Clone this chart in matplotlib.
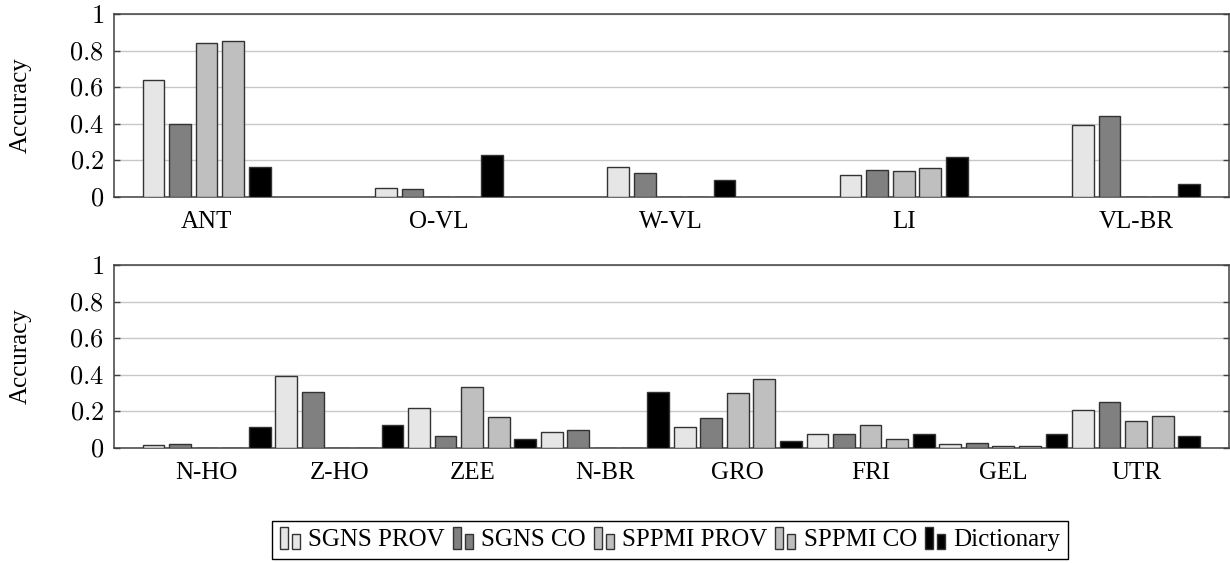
import matplotlib
matplotlib.use('Agg')
import matplotlib.pyplot as plt
import matplotlib.patches as mpatches
from matplotlib.legend_handler import HandlerBase
import numpy as np

plt.rcParams['font.family'] = ['Liberation Serif', 'DejaVu Serif']
plt.rcParams['mathtext.fontset'] = 'cm'
plt.rcParams['font.size'] = 18

# data
series = ["SGNS PROV", "SGNS CO", "SPPMI PROV", "SPPMI CO", "Dictionary"]
colors = ["#e6e6e6", "#808080", "#bfbfbf", "#bfbfbf", "#000000"]

top_cats = ["ANT", "O-VL", "W-VL", "LI", "VL-BR"]
top_sgns_prov = [0.64, 0.05, 0.16, 0.12, 0.39]
top_sgns_co = [0.40, 0.04, 0.13, 0.145, 0.44]
top_sppmi_prov = [0.84, 0.0, 0.0, 0.14, 0.0]
top_sppmi_co = [0.85, 0.0, 0.0, 0.155, 0.0]
top_dict = [0.165, 0.23, 0.09, 0.22, 0.07]

bot_cats = ["N-HO", "Z-HO", "ZEE", "N-BR", "GRO", "FRI", "GEL", "UTR"]
bot_sgns_prov = [0.016, 0.395, 0.215, 0.085, 0.115, 0.073, 0.022, 0.205]
bot_sgns_co = [0.02, 0.307, 0.062, 0.097, 0.16, 0.073, 0.027, 0.25]
bot_sppmi_prov = [0.0, 0.0, 0.33, 0.0, 0.30, 0.122, 0.011, 0.144]
bot_sppmi_co = [0.0, 0.0, 0.166, 0.0, 0.374, 0.046, 0.007, 0.173]
bot_dict = [0.113, 0.126, 0.049, 0.305, 0.035, 0.077, 0.075, 0.064]


class TwoBarHandler(HandlerBase):
    # pgfplots style ybar legend: two small bars
    def create_artists(self, legend, orig_handle, xdescent, ydescent,
                       width, height, fontsize, trans):
        fc = orig_handle.get_facecolor()
        ec = orig_handle.get_edgecolor()
        w = width * 0.36
        r1 = mpatches.Rectangle((-xdescent, -ydescent - 2), w, height * 1.25,
                                facecolor=fc, edgecolor=ec, lw=1.0, transform=trans)
        r2 = mpatches.Rectangle((-xdescent + width * 0.55, -ydescent - 2), w, height * 0.85,
                                facecolor=fc, edgecolor=ec, lw=1.0, transform=trans)
        return [r1, r2]


def draw_panel(ax, cat_pos, cats, vals):
    step = 0.2
    bw = 0.164
    handles = []
    for i, v in enumerate(vals):
        h = ax.bar(cat_pos + (i - 2) * step, v, bw, color=colors[i],
                   edgecolor='#333333', linewidth=1.0, label=series[i], zorder=3)
        handles.append(h[0])
    ax.set_xlim(-0.7, 7.7)
    ax.set_ylim(0, 1)
    ax.set_xticks(cat_pos)
    ax.set_xticklabels(cats)
    ax.set_yticks([0, 0.2, 0.4, 0.6, 0.8, 1])
    ax.set_yticklabels(['$0$', '$0.2$', '$0.4$', '$0.6$', '$0.8$', '$1$'], fontsize=19)
    ax.tick_params(axis='x', length=0, pad=10, labelsize=18)
    ax.tick_params(axis='y', direction='in', length=4, width=1, color='#404040',
                   right=True, pad=7)
    ax.yaxis.grid(True, color='#c8c8c8', linewidth=1.0, zorder=0)
    ax.set_axisbelow(True)
    for s in ax.spines.values():
        s.set_color('#404040')
        s.set_linewidth(1.1)
    ax.set_ylabel('Accuracy', fontsize=18, va='center')
    ax.yaxis.set_label_coords(-0.083, 0.5)
    return handles


fig = plt.figure(figsize=(12.3, 5.63), dpi=100)
ax1 = fig.add_axes([0.0924, 0.6506, 0.9068, 0.3245])
ax2 = fig.add_axes([0.0924, 0.2048, 0.9068, 0.3245])

top_pos = np.arange(len(top_cats)) * 1.75
bot_pos = np.arange(len(bot_cats)) * 1.0

handles = draw_panel(ax1, top_pos, top_cats,
                     [top_sgns_prov, top_sgns_co, top_sppmi_prov, top_sppmi_co, top_dict])
draw_panel(ax2, bot_pos, bot_cats,
           [bot_sgns_prov, bot_sgns_co, bot_sppmi_prov, bot_sppmi_co, bot_dict])

leg = fig.legend(handles, series, loc='upper center', ncol=5,
                 bbox_to_anchor=(670 / 1230, 1 - 521 / 563),
                 handler_map={mpatches.Rectangle: TwoBarHandler()},
                 handlelength=0.9, handletextpad=0.25, columnspacing=0.3,
                 fancybox=False, framealpha=1, edgecolor='black',
                 borderpad=0.3, borderaxespad=0, fontsize=18)
leg.get_frame().set_linewidth(1.0)

plt.savefig('out.png', dpi=100)
